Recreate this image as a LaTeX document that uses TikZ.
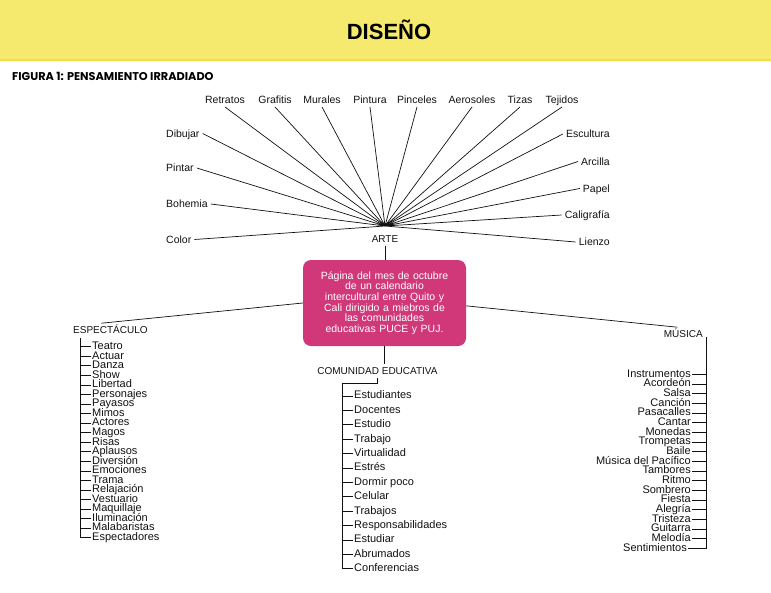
\documentclass[tikz,border=0pt]{standalone}
\usepackage{fontspec}
\setmainfont{Liberation Sans}
\newfontfamily\figfont{Poppins}
\usetikzlibrary{positioning}

\definecolor{DiseYellow}{HTML}{F5E96E}
\definecolor{DiseYellowLine}{HTML}{F1DE45}
\definecolor{DisePink}{HTML}{D0387A}
\definecolor{DiseInk}{HTML}{111111}

\tikzset{
  spoke/.style={inner sep=3pt, text height=7.6pt, text depth=0pt,
    text=DiseInk, font=\fontsize{10.5}{12}\selectfont},
  item/.style={inner sep=1pt, text height=7.9pt, text depth=2.3pt,
    text=DiseInk, font=\fontsize{11}{11}\selectfont},
  head/.style={inner sep=3pt, text height=7.2pt, text depth=0pt,
    text=DiseInk, font=\fontsize{10}{12}\selectfont},
  wire/.style={draw=DiseInk, line width=0.7pt},
}

\begin{document}
\begin{tikzpicture}[x=1pt,y=-1pt]
    \useasboundingbox (0,0) rectangle (771,592);

    % Header
    \fill[DiseYellow] (0,0) rectangle (771,60);
    \draw[DiseYellowLine, line width=1.5pt] (0,60) -- (771,60);
    \node (title) [anchor=base, inner sep=0pt, font=\fontsize{22}{24}\selectfont\bfseries]
      at (389,39) {DISEÑO};
    \node (fig) [anchor=base west, inner sep=0pt, font=\fontsize{11.3}{12}\figfont\bfseries]
      at (12,80) {FIGURA 1: PENSAMIENTO IRRADIADO};

    % Coordinates
    \coordinate (C) at (385,226);
    \coordinate (Et) at (80,338);
    \coordinate (Kt) at (342,383);
    \coordinate (Mt) at (706,337);

    % Arte
    \node (arte) [head, below=6pt of C] {ARTE};
    \node (T1) [spoke] at (225,100) {Retratos};
    \node (T2) [spoke] at (275,100) {Grafitis};
    \node (T3) [spoke] at (322,100) {Murales};
    \node (T4) [spoke] at (370,100) {Pintura};
    \node (T5) [spoke] at (417,100) {Pinceles};
    \node (T6) [spoke] at (472,100) {Aerosoles};
    \node (T7) [spoke] at (520,100) {Tizas};
    \node (T8) [spoke] at (562,100) {Tejidos};
    \node (L1) [spoke, anchor=west] at (163,133.5) {Dibujar};
    \node (L2) [spoke, anchor=west] at (163,168) {Pintar};
    \node (L3) [spoke, anchor=west] at (163,204) {Bohemia};
    \node (L4) [spoke, anchor=west] at (163,239.5) {Color};
    \node (R1) [spoke, anchor=east] at (613,134) {Escultura};
    \node (R2) [spoke, anchor=east] at (613,161.5) {Arcilla};
    \node (R3) [spoke, anchor=east] at (613,188.5) {Papel};
    \node (R4) [spoke, anchor=east] at (613,215) {Caligrafía};
    \node (R5) [spoke, anchor=east] at (613,242) {Lienzo};

    \draw[wire] (C) -- (T1.south) (C) -- (T2.south) (C) -- (T3.south)
      (C) -- (T4.south) (C) -- (T5.south) (C) -- (T6.south)
      (C) -- (T7.south) (C) -- (T8.south);
    \draw[wire] (C) -- (L1.east) (C) -- (L2.east) (C) -- (L3.east) (C) -- (L4.east);
    \draw[wire] (C) -- (R1.west) (C) -- (R2.west) (C) -- (R3.west)
      (C) -- (R4.west) (C) -- (R5.west);

    % Centre box
    \node (box) [fill=DisePink, rounded corners=8pt, minimum width=163pt,
      minimum height=86pt, text width=155pt, align=center, text=white,
      font=\fontsize{10.5}{10.6}\selectfont] at (384.5,303)
      {Página del mes de octubre\\ de un calendario\\ intercultural entre Quito y\\
       Cali dirigido a miebros de\\ las comunidades\\ educativas PUCE y PUJ.};
    \draw[wire] (arte.south) -- (arte.south |- box.north);

    % Branches
    \node (esp) [head, anchor=west] at (70,330) {ESPECTÁCULO};
    \node (mus) [head, anchor=east] at (706,334) {MÚSICA};
    \node (com) [head] at (377.5,371) {COMUNIDAD EDUCATIVA};
    \draw[wire] (box.west) -- ([xshift=-9pt]esp.north);
    \draw[wire] (box.-2) -- ([xshift=-6pt]mus.north);
    \draw[wire] (box.south) -- (box.south |- com.north);

    % Espectaculo
    \node (E1) [item, anchor=west] at (91,346.7) {Teatro};
    \node (E2) [item, anchor=west] at (91,356.25) {Actuar};
    \node (E3) [item, anchor=west] at (91,365.8) {Danza};
    \node (E4) [item, anchor=west] at (91,375.35) {Show};
    \node (E5) [item, anchor=west] at (91,384.9) {Libertad};
    \node (E6) [item, anchor=west] at (91,394.45) {Personajes};
    \node (E7) [item, anchor=west] at (91,404) {Payasos};
    \node (E8) [item, anchor=west] at (91,413.55) {Mimos};
    \node (E9) [item, anchor=west] at (91,423.1) {Actores};
    \node (E10) [item, anchor=west] at (91,432.65) {Magos};
    \node (E11) [item, anchor=west] at (91,442.2) {Risas};
    \node (E12) [item, anchor=west] at (91,451.75) {Aplausos};
    \node (E13) [item, anchor=west] at (91,461.3) {Diversión};
    \node (E14) [item, anchor=west] at (91,470.85) {Emociones};
    \node (E15) [item, anchor=west] at (91,480.4) {Trama};
    \node (E16) [item, anchor=west] at (91,489.95) {Relajación};
    \node (E17) [item, anchor=west] at (91,499.5) {Vestuario};
    \node (E18) [item, anchor=west] at (91,509.05) {Maquillaje};
    \node (E19) [item, anchor=west] at (91,518.6) {Iluminación};
    \node (E20) [item, anchor=west] at (91,528.15) {Malabaristas};
    \node (E21) [item, anchor=west] at (91,537.7) {Espectadores};
    \draw[wire] (Et) |- (E21.west);
    \draw[wire] (E1.west) -- (E1.west -| Et) (E2.west) -- (E2.west -| Et)
      (E3.west) -- (E3.west -| Et) (E4.west) -- (E4.west -| Et)
      (E5.west) -- (E5.west -| Et) (E6.west) -- (E6.west -| Et)
      (E7.west) -- (E7.west -| Et) (E8.west) -- (E8.west -| Et)
      (E9.west) -- (E9.west -| Et) (E10.west) -- (E10.west -| Et)
      (E11.west) -- (E11.west -| Et) (E12.west) -- (E12.west -| Et)
      (E13.west) -- (E13.west -| Et) (E14.west) -- (E14.west -| Et)
      (E15.west) -- (E15.west -| Et) (E16.west) -- (E16.west -| Et)
      (E17.west) -- (E17.west -| Et) (E18.west) -- (E18.west -| Et)
      (E19.west) -- (E19.west -| Et) (E20.west) -- (E20.west -| Et);

    % Comunidad educativa
    \node (K1) [item, anchor=west] at (353,396) {Estudiantes};
    \node (K2) [item, anchor=west] at (353,410.4) {Docentes};
    \node (K3) [item, anchor=west] at (353,424.8) {Estudio};
    \node (K4) [item, anchor=west] at (353,439.2) {Trabajo};
    \node (K5) [item, anchor=west] at (353,453.6) {Virtualidad};
    \node (K6) [item, anchor=west] at (353,468) {Estrés};
    \node (K7) [item, anchor=west] at (353,482.4) {Dormir poco};
    \node (K8) [item, anchor=west] at (353,496.8) {Celular};
    \node (K9) [item, anchor=west] at (353,511.2) {Trabajos};
    \node (K10) [item, anchor=west] at (353,525.6) {Responsabilidades};
    \node (K11) [item, anchor=west] at (353,540) {Estudiar};
    \node (K12) [item, anchor=west] at (353,554.4) {Abrumados};
    \node (K13) [item, anchor=west] at (353,568.8) {Conferencias};
    \draw[wire] (com.south) |- (Kt) |- (K13.west);
    \draw[wire] (K1.west) -- (K1.west -| Kt) (K2.west) -- (K2.west -| Kt)
      (K3.west) -- (K3.west -| Kt) (K4.west) -- (K4.west -| Kt)
      (K5.west) -- (K5.west -| Kt) (K6.west) -- (K6.west -| Kt)
      (K7.west) -- (K7.west -| Kt) (K8.west) -- (K8.west -| Kt)
      (K9.west) -- (K9.west -| Kt) (K10.west) -- (K10.west -| Kt)
      (K11.west) -- (K11.west -| Kt) (K12.west) -- (K12.west -| Kt);

    % Musica
    \node (M1) [item, anchor=east] at (692,374.3) {Instrumentos};
    \node (M2) [item, anchor=east] at (692,384) {Acordeón};
    \node (M3) [item, anchor=east] at (692,393.6) {Salsa};
    \node (M4) [item, anchor=east] at (692,403.3) {Canción};
    \node (M5) [item, anchor=east] at (692,413) {Pasacalles};
    \node (M6) [item, anchor=east] at (692,422.65) {Cantar};
    \node (M7) [item, anchor=east] at (692,432.3) {Monedas};
    \node (M8) [item, anchor=east] at (692,442) {Trompetas};
    \node (M9) [item, anchor=east] at (692,451.7) {Baile};
    \node (M10) [item, anchor=east] at (692,461.3) {Música del Pacífico};
    \node (M11) [item, anchor=east] at (692,471) {Tambores};
    \node (M12) [item, anchor=east] at (692,480.7) {Ritmo};
    \node (M13) [item, anchor=east] at (692,490.3) {Sombrero};
    \node (M14) [item, anchor=east] at (692,500) {Fiesta};
    \node (M15) [item, anchor=east] at (692,509.7) {Alegría};
    \node (M16) [item, anchor=east] at (692,519.4) {Tristeza};
    \node (M17) [item, anchor=east] at (692,529) {Guitarra};
    \node (M18) [item, anchor=east] at (692,538.7) {Melodía};
    \node (M19) [item, anchor=east] at (688,548.3) {Sentimientos};
    \draw[wire] (Mt) |- (M19.east);
    \draw[wire] (M1.east) -- (M1.east -| Mt) (M2.east) -- (M2.east -| Mt)
      (M3.east) -- (M3.east -| Mt) (M4.east) -- (M4.east -| Mt)
      (M5.east) -- (M5.east -| Mt) (M6.east) -- (M6.east -| Mt)
      (M7.east) -- (M7.east -| Mt) (M8.east) -- (M8.east -| Mt)
      (M9.east) -- (M9.east -| Mt) (M10.east) -- (M10.east -| Mt)
      (M11.east) -- (M11.east -| Mt) (M12.east) -- (M12.east -| Mt)
      (M13.east) -- (M13.east -| Mt) (M14.east) -- (M14.east -| Mt)
      (M15.east) -- (M15.east -| Mt) (M16.east) -- (M16.east -| Mt)
      (M17.east) -- (M17.east -| Mt) (M18.east) -- (M18.east -| Mt);

\end{tikzpicture}
\end{document}
